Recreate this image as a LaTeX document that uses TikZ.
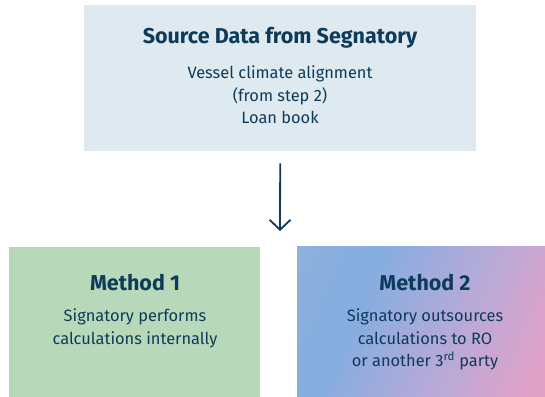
\documentclass[tikz,border=0pt]{standalone}
\usepackage{fontspec}
\setmainfont{Fira Sans}
\newfontfamily\bodyfont{Fira Sans}
\newfontfamily\headfont{Fira Sans}
\usetikzlibrary{arrows.meta}
\definecolor{navy}{HTML}{0E3B5A}
\definecolor{topbg}{HTML}{DFE9F0}
\definecolor{greenbg}{HTML}{B7D9B9}
\definecolor{blueL}{HTML}{90B1DC}
\definecolor{blueA}{HTML}{84ADE1}
\definecolor{purpA}{HTML}{BCA9D6}
\definecolor{pinkA}{HTML}{E2A2C8}
\pgfdeclarehorizontalshading{methodtwo}{100bp}{color(0bp)=(blueL); color(27bp)=(blueA); color(66bp)=(purpA); color(92bp)=(pinkA); color(100bp)=(pinkA)}
\begin{document}
\begin{tikzpicture}[x=1pt,y=-1pt,
  box/.style={draw=none,inner sep=0pt,anchor=north west},
  title/.style={text=navy,font=\headfont\bfseries\fontsize{21.5}{26}\selectfont,inner sep=0pt},
  body/.style={text=navy,font=\bodyfont\fontsize{16.4}{22.5}\selectfont,align=center,inner sep=0pt},
  conn/.style={draw=navy,line width=1.8pt,-{Straight Barb[length=10pt,width=21pt,line width=1.8pt]}}]
\useasboundingbox (0,0) rectangle (545,396);
\fill[white] (0,0) rectangle (545,396);
\node[box,fill=topbg,minimum width=392pt,minimum height=146pt] (src) at (84,5) {};
\node[box,fill=greenbg,minimum width=251pt,minimum height=150pt] (m1) at (9,247) {};
\node[box,minimum width=248pt,minimum height=150pt] (m2) at (297,246) {};
\begin{scope}
  \clip (m2.north west) rectangle (m2.south east);
  \node[inner sep=0pt,rotate=-24,xscale=3,yscale=4] (m2shade) at (m2.center) {\pgfuseshading{methodtwo}};
\end{scope}
\node[title] (srct) at (280,38) {Source Data from Segnatory};
\node[body] (srcb) at (280,95) {Vessel climate alignment\\(from step 2)\\Loan book};
\node[title] (m1t) at (135,283) {Method 1};
\node[body] (m1b) at (135,328.5) {Signatory performs\\calculations internally};
\node[title] (m2t) at (425,283) {Method 2};
\node[body] (m2b) at (425,339.5) {Signatory outsources\\calculations to RO\\or another 3\textsuperscript{rd} party};
\coordinate (aend) at (280,231);
\draw[conn] ([yshift=-12pt]src.south) -- (aend);
\end{tikzpicture}
\end{document}
